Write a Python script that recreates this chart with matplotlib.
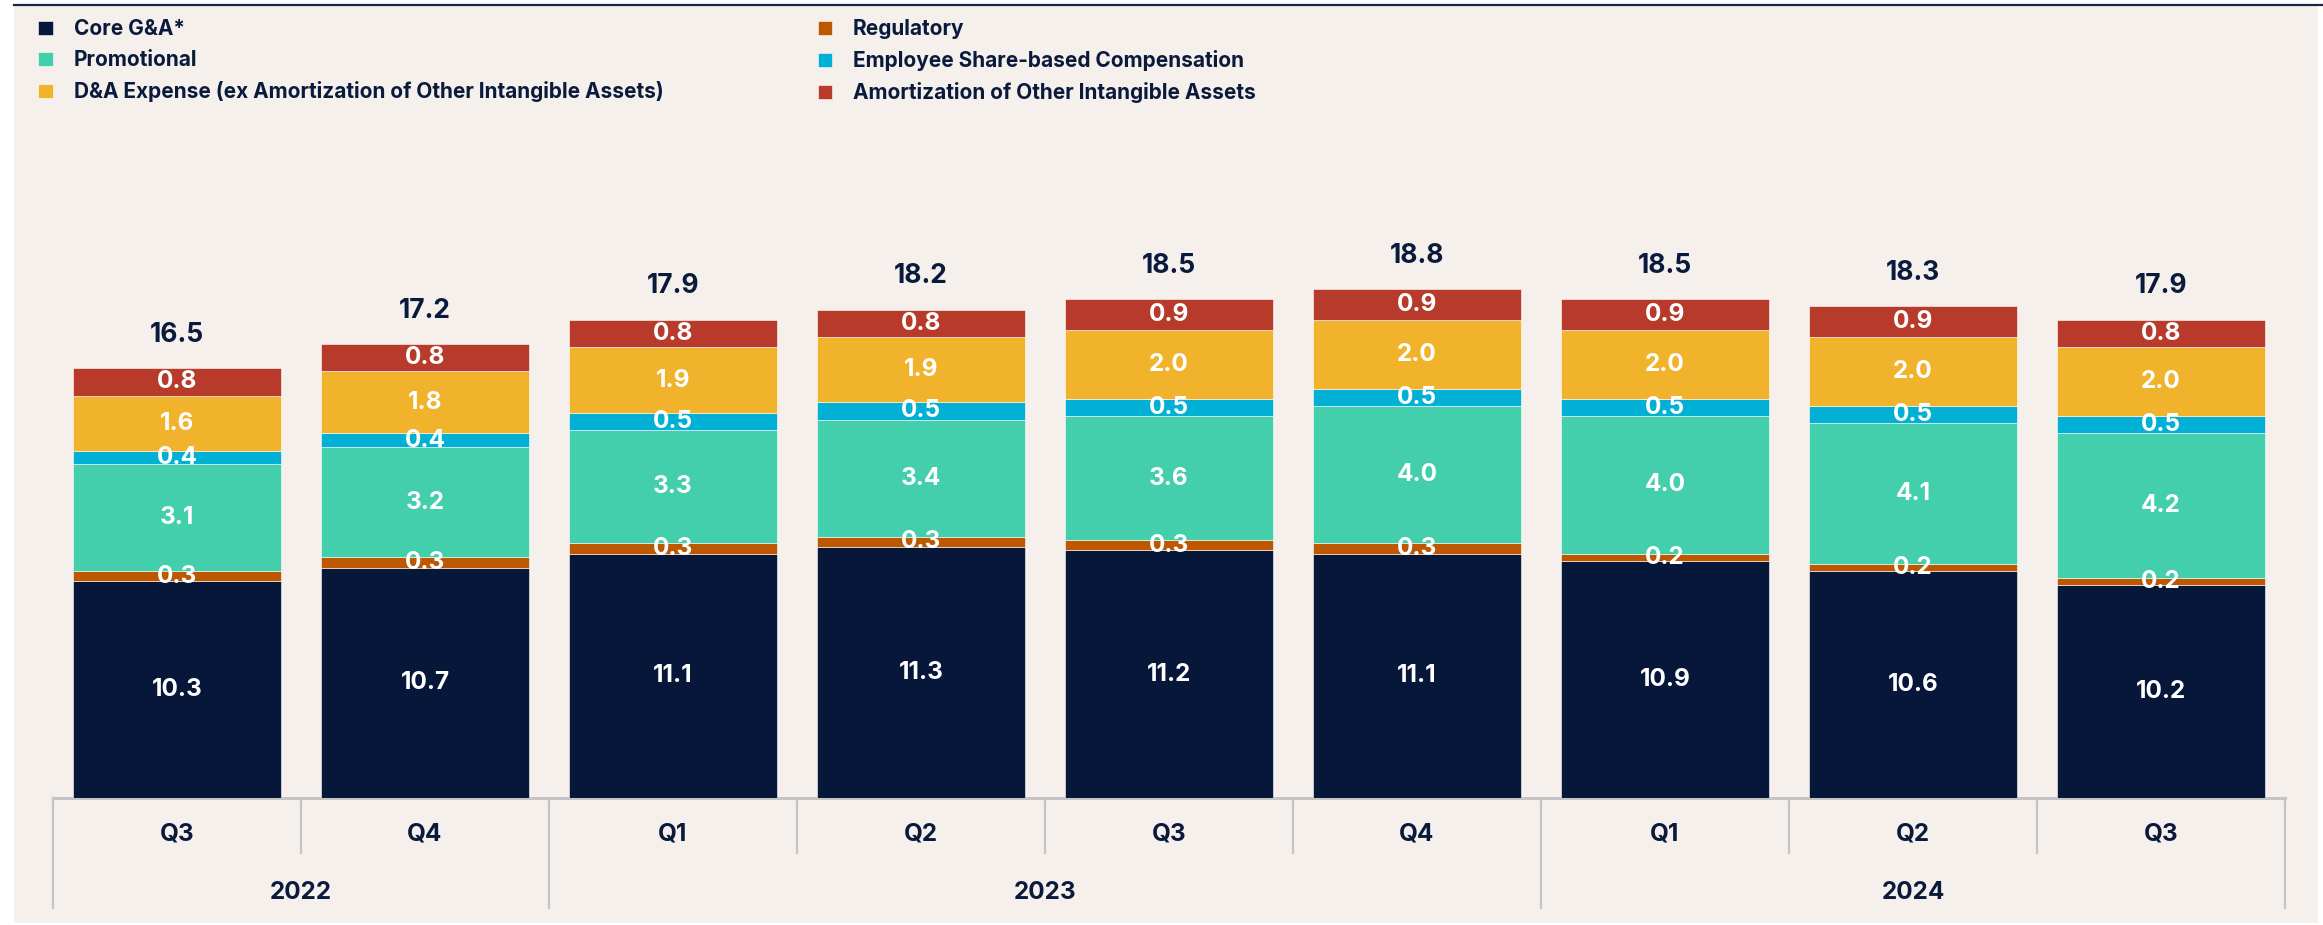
import matplotlib.pyplot as plt
import matplotlib.transforms as mtransforms
from matplotlib.patches import Rectangle
from matplotlib.lines import Line2D
import numpy as np

plt.rcParams['font.family'] = ['Inter', 'DejaVu Sans']

# --- Data ---
quarters = ['Q3', 'Q4', 'Q1', 'Q2', 'Q3', 'Q4', 'Q1', 'Q2', 'Q3']
years = ['2022', '2023', '2024']
year_spans = [(0, 1), (2, 5), (6, 8)]   # first / last quarter index per year

core_ga = [10.3, 10.7, 11.1, 11.3, 11.2, 11.1, 10.9, 10.6, 10.2]
regulatory = [0.3, 0.3, 0.3, 0.3, 0.3, 0.3, 0.2, 0.2, 0.2]
promotional = [3.1, 3.2, 3.3, 3.4, 3.6, 4.0, 4.0, 4.1, 4.2]
share_comp = [0.4, 0.4, 0.5, 0.5, 0.5, 0.5, 0.5, 0.5, 0.5]
da_expense = [1.6, 1.8, 1.9, 1.9, 2.0, 2.0, 2.0, 2.0, 2.0]
amortization = [0.8, 0.8, 0.8, 0.8, 0.9, 0.9, 0.9, 0.9, 0.8]
totals = [16.5, 17.2, 17.9, 18.2, 18.5, 18.8, 18.5, 18.3, 17.9]

series = [
    ('Core G&A*', core_ga, '#06173a'),
    ('Regulatory', regulatory, '#bd5700'),
    ('Promotional', promotional, '#43ceac'),
    ('Employee Share-based Compensation', share_comp, '#02afd5'),
    ('D&A Expense (ex Amortization of Other Intangible Assets)', da_expense, '#f0b32b'),
    ('Amortization of Other Intangible Assets', amortization, '#b83a2b'),
]

navy = '#0a1a3c'
bg = '#f5f0ec'
grid_grey = '#c4c4c4'

# --- Figure ---
fig = plt.figure(figsize=(23.23, 9.25), dpi=100, facecolor='white')
# beige panel
fig.patches.append(Rectangle((14 / 2323, 2 / 925), (2318 - 14) / 2323, (920 - 2) / 925,
                             transform=fig.transFigure, facecolor=bg, edgecolor='none', zorder=-5))
# top rule
fig.lines.append(Line2D([14 / 2323, 1.0], [1 - 5 / 925, 1 - 5 / 925], transform=fig.transFigure,
                        color='#1b2440', lw=1.6, zorder=-4))

ax = fig.add_axes([53 / 2323, 127 / 925, 2232 / 2323, 790 / 925])
ax.set_facecolor('none')
ax.set_zorder(2)

x = np.arange(len(quarters))
ymin = 4.0
px_per_unit = 34.4
ax.set_xlim(-0.5, len(quarters) - 0.5)
ax.set_ylim(ymin, ymin + 790 / px_per_unit)

bottom = np.zeros(len(quarters))
handles = {}
for name, vals, color in series:
    vals = np.array(vals)
    bars = ax.bar(x, vals, bottom=bottom, width=0.835, color=color,
                  edgecolor='#ffffff', linewidth=0.4, label=name, zorder=2)
    handles[name] = bars
    for i, v in enumerate(vals):
        lo = max(bottom[i], ymin)
        yc = (lo + bottom[i] + v) / 2
        ax.text(x[i], yc, f'{v:.1f}', ha='center', va='center', color='white',
                fontsize=17.5, fontweight='bold', zorder=3)
    bottom += vals

for i, t in enumerate(totals):
    ax.text(x[i], bottom[i] + 0.97, f'{t:.1f}', ha='center', va='center', color=navy,
            fontsize=19, fontweight='bold')

# --- Hierarchical category axis ---
for s in ax.spines.values():
    s.set_visible(False)
ax.set_xticks([])
ax.set_yticks([])

trans = mtransforms.blended_transform_factory(ax.transData, ax.transAxes)
ax.plot([-0.5, len(quarters) - 0.5], [0, 0], transform=trans, color=grid_grey, lw=2.2,
        clip_on=False, zorder=1)
year_edges = {-0.5} | {s[1] + 0.5 for s in year_spans}
for b in np.arange(-0.5, len(quarters), 1.0):
    depth = 0.139 if b in year_edges else 0.069
    ax.plot([b, b], [0, -depth], transform=trans, color=grid_grey, lw=1.6, clip_on=False)

for i, q in enumerate(quarters):
    ax.text(x[i], -0.046, q, transform=trans, ha='center', va='center', color=navy,
            fontsize=17.5, fontweight='bold')
for yr, (a, b) in zip(years, year_spans):
    ax.text((a + b) / 2, -0.12, yr, transform=trans, ha='center', va='center', color=navy,
            fontsize=17.5, fontweight='bold')

# --- Legend ---
order = ['Core G&A*', 'Promotional',
         'D&A Expense (ex Amortization of Other Intangible Assets)',
         'Regulatory', 'Employee Share-based Compensation',
         'Amortization of Other Intangible Assets']
leg = fig.legend([handles[n] for n in order], order, loc='upper left',
                 bbox_to_anchor=(30 / 2323, 1 - 11 / 925), ncol=2, frameon=False,
                 fontsize=15, handlelength=0.7, handleheight=0.65, handletextpad=1.0,
                 labelspacing=0.52, columnspacing=7.4, borderaxespad=0)
for t in leg.get_texts():
    t.set_color(navy)
    t.set_fontweight('bold')

fig.savefig('out.png', dpi=100, facecolor='white')
